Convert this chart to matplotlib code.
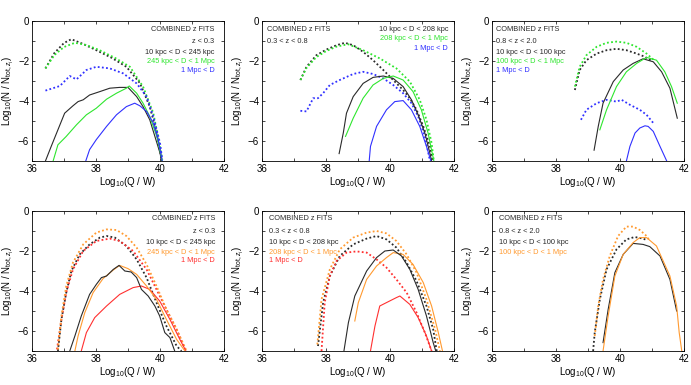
import matplotlib
matplotlib.use("Agg")
import matplotlib.pyplot as plt
from matplotlib.ticker import MultipleLocator

plt.rcParams["font.family"] = ["Liberation Sans", "DejaVu Sans"]
plt.rcParams["mathtext.fontset"] = "custom"
plt.rcParams["mathtext.rm"] = "Liberation Sans"
plt.rcParams["mathtext.it"] = "Liberation Sans:italic"

# colours
BLACK = "#2a2a2a"
GREEN = "#2ee62e"
BLUE = "#3030ff"
ORANGE = "#ff9a30"
RED = "#ff3030"

# =====================================================
# DATA  (x = log10 Q, y = log10 N/Ntot)
# =====================================================

# ---- panel 1 : z < 0.3 (green / blue) ----
p1_blk_dot_x = [36.42, 36.7, 37.0, 37.23, 37.6, 38.01, 38.5, 38.95, 39.37, 39.68, 39.9, 40.05]
p1_blk_dot_y = [-2.37, -1.6, -1.1, -0.91, -1.15, -1.46, -1.85, -2.29, -3.1, -4.28, -5.6, -6.93]
p1_grn_dot_x = [36.42, 36.7, 37.0, 37.34, 37.7, 38.1, 38.6, 39.06, 39.47, 39.79, 40.0, 40.07]
p1_grn_dot_y = [-2.37, -1.7, -1.3, -1.09, -1.2, -1.45, -1.85, -2.29, -3.28, -4.6, -6.27, -6.93]
p1_blu_dot_x = [36.42, 36.87, 37.18, 37.39, 37.7, 38.01, 38.43, 38.85, 39.27, 39.58, 39.79, 40.0, 40.07]
p1_blu_dot_y = [-3.48, -3.25, -2.75, -2.92, -2.45, -2.29, -2.37, -2.62, -3.12, -3.78, -4.77, -6.1, -6.93]
p1_blk_x = [36.42, 36.6, 36.81, 37.02, 37.28, 37.44, 37.6, 37.8, 38.12, 38.43, 38.74, 39.0,
            39.27, 39.47, 39.68, 39.84, 40.0, 40.05]
p1_blk_y = [-7.0, -6.27, -5.44, -4.61, -4.24, -4.03, -3.94, -3.7, -3.53, -3.36, -3.32, -3.32,
            -3.78, -4.28, -4.94, -5.77, -6.6, -7.0]
p1_grn_x = [36.66, 36.81, 37.07, 37.39, 37.7, 38.01, 38.33, 38.64, 38.95, 39.04, 39.27,
            39.47, 39.68, 39.9, 40.07]
p1_grn_y = [-7.0, -6.19, -5.77, -5.19, -4.69, -4.36, -3.91, -3.61, -3.36, -3.25, -3.61,
            -4.11, -4.77, -5.77, -7.0]
p1_blu_x = [37.68, 37.8, 38.01, 38.33, 38.64, 38.95, 39.21, 39.37, 39.58, 39.79, 39.94, 40.07]
p1_blu_y = [-7.0, -6.43, -5.93, -5.27, -4.69, -4.28, -4.11, -4.24, -4.52, -5.1, -5.93, -7.0]

# ---- panel 2 : 0.3 < z < 0.8 (green / blue) ----
p2_blk_dot_x = [37.2, 37.39, 37.7, 38.01, 38.33, 38.59, 38.85, 39.16, 39.47, 39.79, 40.1,
                40.41, 40.62, 40.83, 41.04, 41.25, 41.33]
p2_blk_dot_y = [-2.95, -2.29, -1.71, -1.43, -1.21, -1.09, -1.21, -1.54, -1.96, -2.45, -2.95,
                -3.45, -3.86, -4.44, -5.27, -6.27, -7.0]
p2_grn_dot_x = [37.2, 37.39, 37.7, 38.01, 38.33, 38.69, 39.16, 39.68, 40.2, 40.62, 40.93,
                41.14, 41.3, 41.37]
p2_grn_dot_y = [-2.95, -2.35, -1.8, -1.5, -1.28, -1.16, -1.46, -1.87, -2.37, -3.03, -3.94,
                -4.94, -6.1, -7.0]
p2_blu_dot_x = [37.2, 37.39, 37.6, 37.75, 37.91, 38.12, 38.43, 38.85, 39.16, 39.47, 39.79,
                40.1, 40.41, 40.67, 40.88, 41.09, 41.25]
p2_blu_dot_y = [-4.49, -4.52, -3.86, -3.86, -3.61, -3.2, -2.95, -2.65, -2.54, -2.65, -2.87,
                -3.2, -3.61, -4.11, -4.77, -5.77, -7.0]
p2_blk_x = [38.41, 38.54, 38.64, 38.85, 39.16, 39.47, 39.79, 40.1, 40.41, 40.67, 40.88,
            41.09, 41.25, 41.3]
p2_blk_y = [-6.63, -5.6, -4.61, -3.78, -3.12, -2.82, -2.75, -2.87, -3.28, -3.94, -4.69,
            -5.6, -6.63, -7.0]
p2_grn_x = [38.61, 38.85, 39.16, 39.47, 39.79, 40.1, 40.41, 40.72, 40.98, 41.19, 41.37]
p2_grn_y = [-5.77, -4.86, -3.86, -3.2, -2.87, -2.75, -2.95, -3.53, -4.44, -5.6, -7.0]
p2_blu_x = [39.35, 39.39, 39.58, 39.89, 40.15, 40.41, 40.67, 40.93, 41.14, 41.28]
p2_blu_y = [-7.0, -6.27, -5.27, -4.44, -4.03, -3.98, -4.44, -5.27, -6.27, -7.0]

# ---- panel 3 : 0.8 < z < 2.0 (green / blue) ----
p3_blk_dot_x = [38.59, 38.74, 38.95, 39.27, 39.58, 39.89, 40.2, 40.52, 40.78, 40.99]
p3_blk_dot_y = [-3.45, -2.45, -1.96, -1.63, -1.46, -1.39, -1.46, -1.63, -1.79, -2.0]
p3_grn_dot_x = [38.59, 38.74, 38.95, 39.27, 39.58, 39.89, 40.2, 40.52, 40.83, 41.09]
p3_grn_dot_y = [-3.28, -2.29, -1.71, -1.29, -1.09, -1.03, -1.09, -1.29, -1.63, -2.0]
p3_blu_dot_x = [38.78, 38.95, 39.27, 39.58, 39.89, 40.05, 40.31, 40.62, 40.83, 41.04]
p3_blu_dot_y = [-4.94, -4.44, -4.11, -3.94, -4.03, -3.94, -4.19, -4.44, -4.69, -5.1]
p3_blk_x = [39.19, 39.32, 39.47, 39.79, 40.1, 40.41, 40.72, 41.04, 41.3, 41.56, 41.79]
p3_blk_y = [-6.46, -5.27, -4.11, -3.03, -2.45, -2.12, -1.89, -2.04, -2.54, -3.36, -4.86]
p3_grn_x = [39.37, 39.58, 39.89, 40.2, 40.52, 40.83, 41.14, 41.4, 41.61, 41.79]
p3_grn_y = [-5.44, -4.44, -3.28, -2.54, -2.12, -1.82, -1.96, -2.54, -3.28, -4.11]
p3_blu_x = [40.2, 40.31, 40.47, 40.62, 40.78, 40.88, 41.04, 41.25, 41.46]
p3_blu_y = [-7.0, -6.27, -5.6, -5.35, -5.24, -5.27, -5.52, -6.27, -7.0]

# ---- panel 4 : z < 0.3 (orange / red) ----
p4_blk_dot_x = [36.81, 36.92, 37.07, 37.23, 37.49, 37.8, 38.12, 38.33, 38.59, 38.95, 39.27,
                39.58, 39.89, 40.2, 40.52, 40.67]
p4_blk_dot_y = [-7.0, -5.42, -4.08, -3.0, -2.17, -1.67, -1.33, -1.25, -1.33, -1.75, -2.42,
                -3.33, -4.58, -5.75, -6.75, -7.0]
p4_org_dot_x = [36.81, 36.92, 37.07, 37.28, 37.6, 38.01, 38.33, 38.64, 38.95, 39.27, 39.58,
                39.89, 40.2, 40.52, 40.83]
p4_org_dot_y = [-6.92, -5.25, -3.75, -2.58, -1.67, -1.08, -0.92, -0.95, -1.25, -1.83, -2.67,
                -3.75, -4.92, -5.92, -7.0]
p4_red_dot_x = [36.78, 36.92, 37.07, 37.28, 37.6, 38.01, 38.43, 38.74, 39.16, 39.58, 39.89,
                40.2, 40.52, 40.81]
p4_red_dot_y = [-6.92, -5.42, -4.08, -2.92, -2.0, -1.5, -1.38, -1.5, -2.0, -2.92, -3.92,
                -4.92, -5.92, -7.0]
p4_blk_x = [37.18, 37.34, 37.54, 37.8, 38.01, 38.17, 38.33, 38.54, 38.72, 38.9, 39.1, 39.27,
            39.42, 39.63, 39.84, 39.99, 40.15, 40.31, 40.46]
p4_blk_y = [-7.0, -6.25, -5.25, -4.17, -3.67, -3.33, -3.25, -2.92, -2.72, -3.0, -3.05, -3.33,
            -3.92, -4.25, -4.75, -5.25, -6.08, -6.33, -7.0]
p4_org_x = [37.34, 37.44, 37.65, 37.91, 38.22, 38.54, 38.74, 39.0, 39.27, 39.58, 39.89,
            40.2, 40.52, 40.78]
p4_org_y = [-7.0, -6.25, -5.08, -4.08, -3.38, -2.95, -2.72, -2.88, -3.17, -3.75, -4.42,
            -5.42, -6.42, -7.0]
p4_red_x = [37.54, 37.7, 37.96, 38.33, 38.74, 39.16, 39.42, 39.68, 39.99, 40.31, 40.62, 40.81]
p4_red_y = [-7.0, -6.08, -5.33, -4.75, -4.17, -3.83, -3.75, -3.92, -4.5, -5.42, -6.42, -7.0]

# ---- panel 5 : 0.3 < z < 0.8 (orange / red) ----
p5_blk_dot_x = [37.75, 37.91, 38.12, 38.43, 38.85, 39.27, 39.58, 39.89, 40.2, 40.52, 40.83,
                41.14, 41.35, 41.46]
p5_blk_dot_y = [-6.75, -4.58, -3.25, -2.25, -1.67, -1.38, -1.25, -1.42, -1.83, -2.58, -3.5,
                -4.75, -5.92, -7.0]
p5_org_dot_x = [37.73, 37.86, 38.12, 38.43, 38.85, 39.27, 39.58, 39.89, 40.2, 40.52, 40.83,
                41.14, 41.41, 41.56]
p5_org_dot_y = [-6.67, -4.42, -2.92, -1.92, -1.33, -1.08, -1.0, -1.12, -1.5, -2.17, -3.08,
                -4.42, -5.92, -7.0]
p5_red_dot_x = [37.86, 37.96, 38.12, 38.33, 38.64, 38.95, 39.27, 39.58, 39.89, 40.2, 40.52,
                40.83, 41.09, 41.3]
p5_red_dot_y = [-7.0, -4.58, -3.25, -2.5, -2.08, -2.02, -2.08, -2.42, -2.83, -3.42, -4.08,
                -5.08, -6.08, -7.0]
p5_blk_x = [38.56, 38.7, 38.9, 39.27, 39.58, 39.84, 40.1, 40.36, 40.62, 40.88, 41.14, 41.35, 41.43]
p5_blk_y = [-7.0, -5.58, -4.25, -3.0, -2.33, -2.0, -1.95, -2.25, -2.92, -3.92, -5.25, -6.58, -7.0]
p5_org_x = [38.9, 39.01, 39.27, 39.58, 39.89, 40.1, 40.41, 40.72, 41.04, 41.3, 41.51, 41.64]
p5_org_y = [-5.5, -4.58, -3.42, -2.75, -2.33, -2.08, -2.17, -2.67, -3.58, -4.75, -6.08, -7.0]
p5_red_x = [39.39, 39.53, 39.68, 39.89, 40.2, 40.31, 40.62, 40.88, 41.14, 41.3]
p5_red_y = [-7.0, -5.75, -4.75, -4.58, -4.33, -4.25, -4.67, -5.33, -6.25, -7.0]

# ---- panel 6 : 0.8 < z < 2.0 (orange) ----
p6_blk_dot_x = [39.16, 39.21, 39.37, 39.58, 39.89, 40.2, 40.46, 40.72, 40.83]
p6_blk_dot_y = [-7.0, -6.08, -4.42, -2.92, -1.92, -1.42, -1.3, -1.38, -1.45]
p6_org_dot_x = [39.21, 39.32, 39.47, 39.68, 39.94, 40.2, 40.41, 40.62, 40.83, 40.93]
p6_org_dot_y = [-6.25, -4.75, -3.42, -2.25, -1.25, -0.78, -0.78, -0.95, -1.25, -1.5]
p6_blk_x = [39.47, 39.63, 39.84, 40.1, 40.41, 40.72, 40.93, 41.25, 41.56, 41.77]
p6_blk_y = [-6.58, -4.92, -3.08, -2.17, -1.62, -1.67, -1.78, -2.25, -3.42, -5.0]
p6_org_x = [39.47, 39.63, 39.84, 40.1, 40.41, 40.62, 40.83, 41.14, 41.56, 41.77, 41.85, 41.93]
p6_org_y = [-7.0, -5.25, -3.25, -2.17, -1.58, -1.33, -1.33, -1.75, -3.25, -4.75, -6.08, -7.0]

# annotation text
title_txt = "COMBINED z FITS"
z_bins = ["z < 0.3", "0.3 < z < 0.8", "0.8 < z < 2.0"]
d_small = ["10 kpc < D < 245 kpc", "10 kpc < D < 208 kpc", "10 kpc < D < 100 kpc"]
d_mid = ["245 kpc < D < 1 Mpc", "208 kpc < D < 1 Mpc", "100 kpc < D < 1 Mpc"]
d_big = "1 Mpc < D"

# =====================================================
# FIGURE
# =====================================================

fig = plt.figure(figsize=(6.91, 3.85), dpi=100)

lefts = [32 / 691, 262 / 691, 492 / 691]
width = 192 / 691
height = 140 / 385
bottoms = [1 - 161 / 385, 1 - 351 / 385]

axes = []
for r in range(2):
    for c in range(3):
        ax = fig.add_axes([lefts[c], bottoms[r], width, height])
        axes.append(ax)

DOT = (0, (1.0, 1.3))


def style(ax):
    ax.set_xlim(36, 42)
    ax.set_ylim(-7, 0)
    ax.xaxis.set_major_locator(MultipleLocator(2))
    ax.xaxis.set_minor_locator(MultipleLocator(1))
    ax.yaxis.set_major_locator(MultipleLocator(2))
    ax.yaxis.set_minor_locator(MultipleLocator(1))
    ax.tick_params(which="both", direction="in", top=True, right=True,
                   length=2.5, width=0.5, labelsize=7, pad=2)
    for sp in ax.spines.values():
        sp.set_linewidth(0.6)
    ax.set_xlabel(r"Log$_{10}$(Q / W)", fontsize=7, labelpad=1)
    ax.set_ylabel(r"Log$_{10}$(N / N$_{\mathrm{tot},z_i}$)", fontsize=7, labelpad=2)


def curve(ax, x, y, color, dotted):
    if dotted:
        ax.plot(x, y, color=color, lw=1.3, linestyle=DOT)
    else:
        ax.plot(x, y, color=color, lw=0.8)


panels = [
    [(p1_blk_dot_x, p1_blk_dot_y, BLACK, True), (p1_grn_dot_x, p1_grn_dot_y, GREEN, True),
     (p1_blu_dot_x, p1_blu_dot_y, BLUE, True), (p1_blk_x, p1_blk_y, BLACK, False),
     (p1_grn_x, p1_grn_y, GREEN, False), (p1_blu_x, p1_blu_y, BLUE, False)],
    [(p2_blk_dot_x, p2_blk_dot_y, BLACK, True), (p2_grn_dot_x, p2_grn_dot_y, GREEN, True),
     (p2_blu_dot_x, p2_blu_dot_y, BLUE, True), (p2_blk_x, p2_blk_y, BLACK, False),
     (p2_grn_x, p2_grn_y, GREEN, False), (p2_blu_x, p2_blu_y, BLUE, False)],
    [(p3_blk_dot_x, p3_blk_dot_y, BLACK, True), (p3_grn_dot_x, p3_grn_dot_y, GREEN, True),
     (p3_blu_dot_x, p3_blu_dot_y, BLUE, True), (p3_blk_x, p3_blk_y, BLACK, False),
     (p3_grn_x, p3_grn_y, GREEN, False), (p3_blu_x, p3_blu_y, BLUE, False)],
    [(p4_blk_dot_x, p4_blk_dot_y, BLACK, True), (p4_red_dot_x, p4_red_dot_y, RED, True),
     (p4_org_dot_x, p4_org_dot_y, ORANGE, True), (p4_red_x, p4_red_y, RED, False),
     (p4_org_x, p4_org_y, ORANGE, False), (p4_blk_x, p4_blk_y, BLACK, False)],
    [(p5_blk_dot_x, p5_blk_dot_y, BLACK, True), (p5_red_dot_x, p5_red_dot_y, RED, True),
     (p5_org_dot_x, p5_org_dot_y, ORANGE, True), (p5_red_x, p5_red_y, RED, False),
     (p5_org_x, p5_org_y, ORANGE, False), (p5_blk_x, p5_blk_y, BLACK, False)],
    [(p6_blk_dot_x, p6_blk_dot_y, BLACK, True), (p6_org_dot_x, p6_org_dot_y, ORANGE, True),
     (p6_blk_x, p6_blk_y, BLACK, False), (p6_org_x, p6_org_y, ORANGE, False)],
]

for ax, lines in zip(axes, panels):
    style(ax)
    for x, y, col, dot in lines:
        curve(ax, x, y, col, dot)

FS = 5.3


def txt(ax, x, y, s, color=BLACK, ha="left"):
    ax.text(x, y, s, transform=ax.transAxes, fontsize=FS, color=color, ha=ha, va="center")


# top row
ax = axes[0]
ys = [0.938, 0.855, 0.774, 0.71, 0.643]
txt(ax, 0.95, ys[0], title_txt, ha="right")
txt(ax, 0.95, ys[1], z_bins[0], ha="right")
txt(ax, 0.95, ys[2], d_small[0], ha="right")
txt(ax, 0.95, ys[3], d_mid[0], GREEN, ha="right")
txt(ax, 0.95, ys[4], d_big, BLUE, ha="right")

ax = axes[1]
txt(ax, 0.028, 0.938, title_txt)
txt(ax, 0.028, 0.855, z_bins[1])
txt(ax, 0.97, 0.938, d_small[1], ha="right")
txt(ax, 0.97, 0.874, d_mid[1], GREEN, ha="right")
txt(ax, 0.97, 0.807, d_big, BLUE, ha="right")

ax = axes[2]
ys = [0.938, 0.855, 0.774, 0.712, 0.648]
txt(ax, 0.023, ys[0], title_txt)
txt(ax, 0.023, ys[1], z_bins[2])
txt(ax, 0.023, ys[2], d_small[2])
txt(ax, 0.023, ys[3], d_mid[2], GREEN)
txt(ax, 0.023, ys[4], d_big, BLUE)

# bottom row
ys = [0.945, 0.857, 0.778, 0.703, 0.644]
ax = axes[3]
txt(ax, 0.953, ys[0], title_txt, ha="right")
txt(ax, 0.953, ys[1], z_bins[0], ha="right")
txt(ax, 0.953, ys[2], d_small[0], ha="right")
txt(ax, 0.953, ys[3], d_mid[0], ORANGE, ha="right")
txt(ax, 0.953, ys[4], d_big, RED, ha="right")

ax = axes[4]
txt(ax, 0.035, ys[0], title_txt)
txt(ax, 0.035, ys[1], z_bins[1])
txt(ax, 0.035, ys[2], d_small[1])
txt(ax, 0.035, ys[3], d_mid[1], ORANGE)
txt(ax, 0.035, ys[4], d_big, RED)

ax = axes[5]
txt(ax, 0.035, ys[0], title_txt)
txt(ax, 0.035, ys[1], z_bins[2])
txt(ax, 0.035, ys[2], d_small[2])
txt(ax, 0.035, ys[3], d_mid[2], ORANGE)

fig.savefig("out.png", dpi=100)
